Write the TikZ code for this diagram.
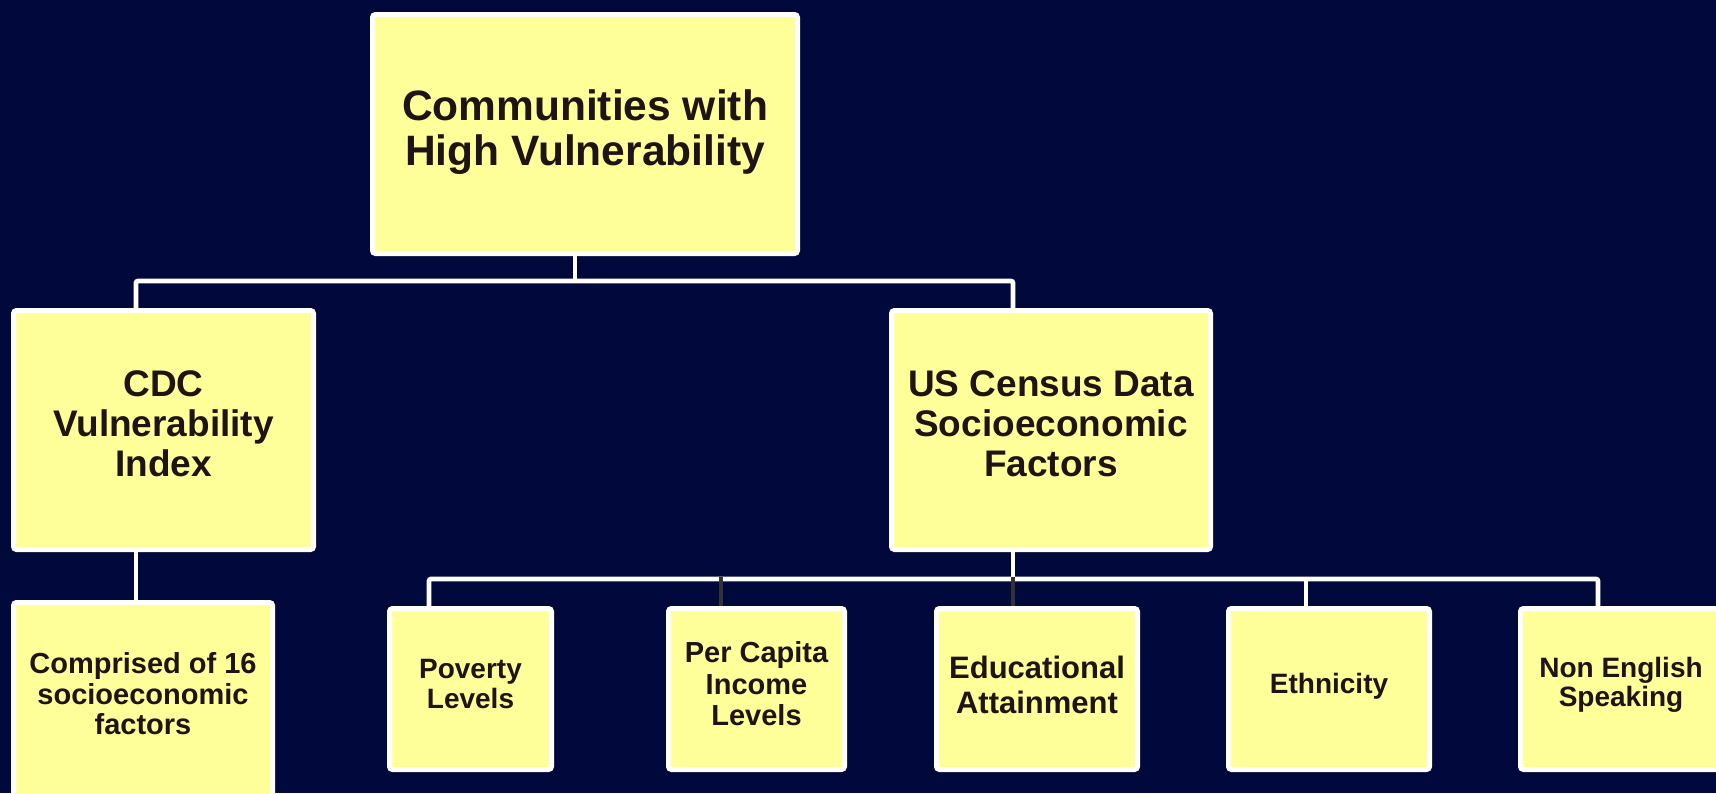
\documentclass[tikz,border=0pt]{standalone}
\usepackage{fontspec}
\setmainfont{Liberation Sans}
\definecolor{bg}{HTML}{00083C}
\definecolor{boxfill}{HTML}{FFFF99}
\definecolor{txt}{HTML}{1E1414}
\definecolor{darkline}{HTML}{333333}
\begin{document}
\begin{tikzpicture}[x=1pt,y=-1pt,
  box/.style={draw=white, line width=5pt, fill=boxfill, rounded corners=3pt, inner sep=0pt, minimum height=239pt},
  sbox/.style={box, minimum height=161pt},
  lbl/.style={inner sep=0pt, align=center, text=txt, font=\bfseries},
  conn/.style={draw=white, line width=4.7pt, rounded corners=2pt},
  dconn/.style={draw=darkline, line width=4.7pt}]
\useasboundingbox (0,0) rectangle (1716,793);
\clip (0,0) rectangle (1716,793);
\fill[bg] (0,0) rectangle (1716,793);

% boxes
\node[box, minimum width=425pt] (top) at (585,134) {};
\node[box, minimum width=300pt] (cdc) at (163.5,430) {};
\node[box, minimum width=319pt] (us) at (1051,430) {};
\node[box, minimum width=259pt, minimum height=215pt] (comp) at (143,710) {};
\node[sbox, minimum width=162pt] (pov) at (470.5,689) {};
\node[sbox, minimum width=176pt] (pc) at (756.5,689) {};
\node[sbox, minimum width=201pt] (edu) at (1037,689) {};
\node[sbox, minimum width=201pt] (eth) at (1329,689) {};
\node[sbox, minimum width=201pt] (ne) at (1621,689) {};

% junction coordinates
\coordinate (j1) at (575,281);
\coordinate (hL) at (136,281);
\coordinate (hR) at (1013,281);
\coordinate (bJ) at (1013,579);
\coordinate (d1) at (429,579);
\coordinate (d2) at (721,579);
\coordinate (d4) at (1306,579);
\coordinate (d5) at (1598,579);

% connectors
\draw[conn] (top.south -| j1) -- (j1);
\draw[conn] (cdc.north -| hL) -- (hL) -- (hR) -- (us.north -| hR);
\draw[conn] (cdc.south -| hL) -- (comp.north -| hL);
\draw[conn] (us.south -| bJ) -- (bJ);
\draw[conn] (pov.north -| d1) -- (d1) -- (d5) -- (ne.north -| d5);
\draw[conn] (d4) -- (eth.north -| d4);
\draw[dconn] ([yshift=2.3pt]d2) -- (pc.north -| d2);
\draw[dconn] ([yshift=2.3pt]bJ) -- (edu.north -| bJ);

% texts
\node[lbl, font=\bfseries\fontsize{42.5}{45}\selectfont] (topt) at (585,132.5) {Communities with\\High Vulnerability};
\node[lbl, font=\bfseries\fontsize{37}{40}\selectfont] (cdct) at (163.5,424) {CDC\\Vulnerability\\Index};
\node[lbl, font=\bfseries\fontsize{37}{40}\selectfont] (ust) at (1051,424) {US Census Data\\Socioeconomic\\Factors};
\node[lbl, font=\bfseries\fontsize{29}{30.5}\selectfont] (compt) at (143,694) {Comprised of 16\\socioeconomic\\factors};
\node[lbl, font=\bfseries\fontsize{28}{29.5}\selectfont] (povt) at (470.5,684) {Poverty\\Levels};
\node[lbl, font=\bfseries\fontsize{29}{31.5}\selectfont] (pct) at (756.5,684) {Per Capita\\Income\\Levels};
\node[lbl, font=\bfseries\fontsize{31}{35}\selectfont] (edut) at (1037,685) {Educational\\Attainment};
\node[lbl, font=\bfseries\fontsize{28}{29.5}\selectfont] (etht) at (1329,686) {Ethnicity};
\node[lbl, font=\bfseries\fontsize{28}{29.5}\selectfont] (net) at (1621,685) {Non English\\Speaking};
\end{tikzpicture}
\end{document}
